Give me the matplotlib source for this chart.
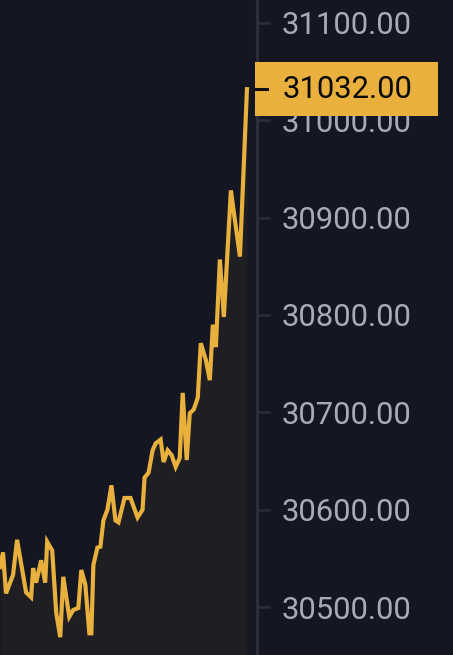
import matplotlib
matplotlib.use("Agg")
import matplotlib.pyplot as plt
from matplotlib.patches import Rectangle
from matplotlib.lines import Line2D

# ---- data ----
t = [0, 3, 6, 13, 17, 26, 31, 33, 36, 41, 45, 47, 52, 56, 60, 63, 69, 73, 78, 81,
     85, 89, 91, 93, 97, 100, 103, 107, 111, 115, 118, 124, 130, 137, 142, 144, 148,
     152, 155, 160, 163, 167, 171, 175, 179, 182, 186, 189, 193, 197, 200, 205, 209,
     212, 215, 219, 223, 230, 233, 239, 246]
price = [30541, 30556, 30514, 30533, 30569, 30515, 30510, 30540, 30525, 30548, 30525,
         30567, 30558, 30494, 30469, 30531, 30490, 30497, 30499, 30538, 30523, 30473,
         30473, 30543, 30561, 30562, 30589, 30600, 30625, 30589, 30587, 30612, 30612,
         30592, 30600, 30633, 30638, 30661, 30668, 30672, 30649, 30661, 30656, 30644,
         30653, 30720, 30651, 30699, 30703, 30715, 30771, 30754, 30733, 30790, 30767,
         30857, 30798, 30928, 30905, 30860, 31032]
last_price = 31032.00
tick_values = [30500, 30600, 30700, 30800, 30900, 31000, 31100]
tick_labels = [f"{v:.2f}" for v in tick_values]

BG = "#141622"
FILL = "#1f1f23"
LINE = "#e8b03c"
AXIS = "#2a2e3a"
TXT = "#a8abb3"

W, H = 453, 655
fig = plt.figure(figsize=(W / 100, H / 100), dpi=100, facecolor=BG)
ax = fig.add_axes([0, 0, 257 / W, 1])
ax.set_facecolor(BG)

ax.fill_between(t, price, 30400, color=FILL, lw=0, zorder=1)
ax.plot(t, price, color=LINE, lw=3.0, solid_joinstyle="miter", zorder=3)

ax.set_xlim(t[0], t[-1] + 10)
ax.set_ylim(30450.7, 31123.6)

for s in ["left", "top", "bottom"]:
    ax.spines[s].set_visible(False)
ax.spines["right"].set_color(AXIS)
ax.spines["right"].set_linewidth(2.4)
ax.set_xticks([])
ax.yaxis.tick_right()
ax.set_yticks(tick_values)
ax.set_yticklabels(tick_labels)
ax.tick_params(axis="y", direction="out", length=9.5, width=1.8, color=AXIS,
               labelcolor=TXT, labelsize=22.3, pad=8.5)
for lab in ax.get_yticklabels():
    lab.set_fontfamily("Roboto")

# last-price tag
fig.canvas.draw()
_, ypix = ax.transData.transform((t[-1], last_price))
tag_h = 54
fig.patches.append(Rectangle((255, ypix - tag_h / 2), 183, tag_h, transform=None,
                             facecolor="#e9b03e", edgecolor="none", zorder=5))
fig.lines.append(Line2D([256, 267], [ypix, ypix], transform=None, color="#111111",
                        lw=2.2, zorder=6))
fig.text(282.5 / W, ypix / H, f"{last_price:.2f}", color="#0c0c0c", fontsize=22.3,
         family="Roboto", ha="left", va="center", zorder=7)

fig.savefig("out.png", dpi=100, facecolor=BG)
